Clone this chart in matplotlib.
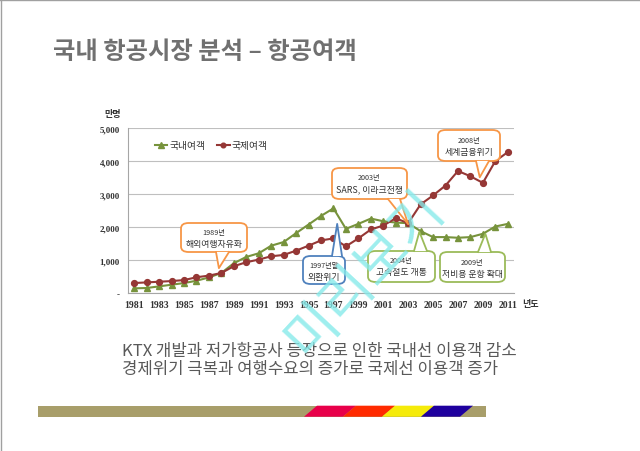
import numpy as np
import matplotlib
matplotlib.use('Agg')
import matplotlib.pyplot as plt
from matplotlib.patches import FancyBboxPatch, Polygon, Rectangle
from matplotlib.lines import Line2D

plt.rcParams['font.family'] = ['Noto Sans CJK KR', 'DejaVu Sans']

years = list(range(1981, 2012))
domestic = [150, 160, 210, 260, 310, 380, 480, 615, 910, 1100, 1210, 1440, 1550, 1820, 2080, 2340, 2570,
            1950, 2100, 2260, 2180, 2140, 2120, 1880, 1700, 1700, 1680, 1700, 1800, 2020, 2100]
international = [310, 330, 350, 370, 400, 485, 535, 615, 820, 940, 1020, 1120, 1160, 1290, 1440, 1600, 1660,
                 1420, 1660, 1930, 2050, 2270, 2120, 2690, 2960, 3260, 3700, 3540, 3340, 4000, 4270]
yticks = [0, 1000, 2000, 3000, 4000, 5000]
ytick_labels = ['-', '1,000', '2,000', '3,000', '4,000', '5,000']
xtick_years = years[::2]

# callouts: year label, text, colour, box (px l,t,r,b), tail base x (px), side, tip (year, value)
callouts = [
    ('1989년', '해외여행자유화', '#F79646', (181, 224, 247, 253), (216, 229), 'bottom', (1987.8, 760)),
    ('1997년말', '외환위기', '#4F81BD', (303, 257, 345, 285), (332, 342), 'top', (1997.3, 2100)),
    ('2003년', 'SARS, 이라크전쟁', '#F79646', (332, 169, 407, 200), (388, 400), 'bottom', (2003.0, 2090)),
    ('2008년', '세계금융위기', '#F79646', (438, 131, 500, 162), (476, 489), 'bottom', (2008.75, 3510)),
    ('2004년', '고속철도 개통', '#9BBB59', (368, 252, 435, 283), (414, 427), 'top', (2003.9, 1860)),
    ('2009년', '저비용 운항 확대', '#9BBB59', (440, 253, 505, 283), (478, 491), 'top', (2009.2, 1800)),
]

W, H = 640, 452
fig = plt.figure(figsize=(6.4, 4.52), dpi=100)
fig.patch.set_facecolor('white')


def fp(x, y):
    return (x / W, 1 - y / H)


# slide border (left/top)
fig.add_artist(Line2D([0.5 / W, 0.5 / W], [0, 1], color='#A0A0A0', lw=1, transform=fig.transFigure))
fig.add_artist(Line2D([0, 1], [1 - 0.5 / H, 1 - 0.5 / H], color='#A0A0A0', lw=1, transform=fig.transFigure))

fig.text(*fp(53, 52), '국내 항공시장 분석 – 항공여객', fontsize=17.5, color='#707070',
         fontweight='bold', va='center', ha='left')

ax = fig.add_axes([128 / W, 1 - 294.3 / H, (514 - 128) / W, (294.3 - 129) / H])
ax.plot(years, domestic, '-^', color='#77933C', lw=1.5, ms=4.6, label='국내여객')
ax.plot(years, international, '-o', color='#953735', lw=1.5, ms=4.2, label='국제여객')
ax.set_xlim(1980.5, 2011.5)
ax.set_ylim(0, 5000)
ax.set_yticks(yticks)
ax.set_yticklabels(ytick_labels, fontsize=6.5, fontfamily='Liberation Serif', fontweight='bold', color='#333333')
ax.set_xticks(xtick_years)
ax.set_xticklabels([str(y) for y in xtick_years], fontsize=7, fontfamily='Liberation Serif',
                   fontweight='bold', color='#333333')
ax.tick_params(length=0, pad=6)
ax.tick_params(axis='x', pad=5)
ax.grid(axis='y', color='#BFBFBF', lw=0.8)
ax.set_axisbelow(True)
for s in ['top', 'right']:
    ax.spines[s].set_visible(False)
ax.spines['left'].set_color('#A6A6A6')
ax.spines['bottom'].set_color('#A6A6A6')
ax.legend(loc='center left', bbox_to_anchor=fp(146, 146), bbox_transform=fig.transFigure, ncol=2,
          frameon=False, fontsize=7, handlelength=1.3, handletextpad=0.2, columnspacing=1.2,
          markerscale=0.8, labelcolor='#333333')

fig.text(*fp(104, 115), '만명', fontsize=6.5, fontweight='bold', color='#333333', va='center', ha='left')
fig.text(*fp(522, 304), '년도', fontsize=6.5, fontweight='bold', color='#333333', va='center', ha='left')

for yl, txt, col, (l, t, r, b), (bx0, bx1), side, tip in callouts:
    x0, y0 = fp(l, b)
    x1, y1 = fp(r, t)
    box = FancyBboxPatch((x0, y0), x1 - x0, y1 - y0, boxstyle='round,pad=0,rounding_size=0.012',
                         transform=fig.transFigure, fc='white', ec=col, lw=1.3, zorder=5)
    fig.add_artist(box)
    tipf = fig.transFigure.inverted().transform(ax.transData.transform(tip))
    ey = b if side == 'bottom' else t
    p0 = fp(bx0, ey)
    p1 = fp(bx1, ey)
    fig.add_artist(Polygon([p0, tipf, p1], closed=True, transform=fig.transFigure,
                           fc='white', ec='none', zorder=6))
    fig.add_artist(Line2D([p0[0], tipf[0], p1[0]], [p0[1], tipf[1], p1[1]], color=col, lw=1.3,
                          transform=fig.transFigure, zorder=7))
    cx = (l + r) / 2
    fig.text(*fp(cx, t + 9.5), yl, fontsize=5.2, color='#333333', ha='center', va='center', zorder=8)
    fig.text(*fp(cx, t + 21), txt, fontsize=6.4, color='#333333', ha='center', va='center', zorder=8)

fig.text(*fp(122, 352), 'KTX 개발과 저가항공사 등장으로 인한 국내선 이용객 감소', fontsize=12,
         color='#595959', va='center', ha='left')
fig.text(*fp(122, 369.5), '경제위기 극복과 여행수요의 증가로 국제선 이용객 증가', fontsize=12,
         color='#595959', va='center', ha='left')

# bottom band
fig.add_artist(Rectangle(fp(38, 417.7), (486 - 38) / W, 11 / H, transform=fig.transFigure,
                         fc='#A89E6A', ec='none'))
stripes = [('#E8004A', 304), ('#FF2A00', 343), ('#F5EB0A', 382), ('#1E009E', 421)]
for col, xb in stripes:
    pts = [fp(xb, 417.7), fp(xb + 13, 406.7), fp(xb + 52, 406.7), fp(xb + 39, 417.7)]
    fig.add_artist(Polygon(pts, closed=True, transform=fig.transFigure, fc=col, ec='none'))

# watermark
fig.text(*fp(365, 274), '미리보기', fontsize=40, color='#86EAEA', alpha=0.8, rotation=47,
         ha='center', va='center', zorder=20)

fig.savefig('out.png', dpi=100)
